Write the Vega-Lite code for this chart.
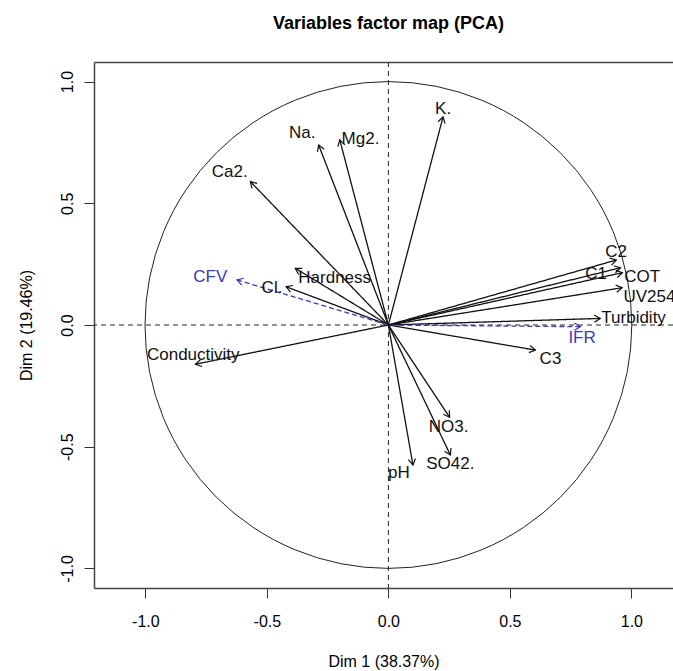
{
  "$schema": "https://vega.github.io/schema/vega-lite/v6.json",
  "width": 579,
  "height": 526,
  "autosize": "none",
  "padding": {"left": 94, "top": 62, "right": 0, "bottom": 83},
  "background": "white",
  "config": {"view": {"stroke": null}, "font": "Liberation Sans"},
  "title": {"text": "Variables factor map (PCA)", "font": "Liberation Sans", "fontSize": 18, "fontWeight": "bold", "color": "black", "anchor": "middle", "frame": "group", "dx": 5, "offset": 29},
  "datasets": {
    "vars": [
      {"name": "K.", "x": 0.225, "y": 0.855, "lx": 0.225, "ly": 0.887, "group": "active"},
      {"name": "Na.", "x": -0.287, "y": 0.739, "lx": -0.355, "ly": 0.787, "group": "active"},
      {"name": "Mg2.", "x": -0.2, "y": 0.76, "lx": -0.115, "ly": 0.763, "group": "active"},
      {"name": "Ca2.", "x": -0.568, "y": 0.589, "lx": -0.653, "ly": 0.627, "group": "active"},
      {"name": "Hardness", "x": -0.383, "y": 0.233, "lx": -0.221, "ly": 0.194, "group": "active"},
      {"name": "Cl.", "x": -0.421, "y": 0.157, "lx": -0.479, "ly": 0.153, "group": "active"},
      {"name": "Conductivity", "x": -0.794, "y": -0.161, "lx": -0.803, "ly": -0.123, "group": "active"},
      {"name": "C2", "x": 0.938, "y": 0.267, "lx": 0.937, "ly": 0.301, "group": "active"},
      {"name": "C1", "x": 0.955, "y": 0.235, "lx": 0.855, "ly": 0.208, "group": "active"},
      {"name": "COT", "x": 0.963, "y": 0.215, "lx": 1.044, "ly": 0.198, "group": "active"},
      {"name": "UV254", "x": 0.962, "y": 0.153, "lx": 1.074, "ly": 0.116, "group": "active"},
      {"name": "Turbidity", "x": 0.872, "y": 0.027, "lx": 1.009, "ly": 0.027, "group": "active"},
      {"name": "C3", "x": 0.605, "y": -0.103, "lx": 0.667, "ly": -0.141, "group": "active"},
      {"name": "NO3.", "x": 0.252, "y": -0.379, "lx": 0.248, "ly": -0.418, "group": "active"},
      {"name": "SO42.", "x": 0.255, "y": -0.534, "lx": 0.255, "ly": -0.572, "group": "active"},
      {"name": "pH", "x": 0.101, "y": -0.575, "lx": 0.043, "ly": -0.606, "group": "active"},
      {"name": "CFV", "x": -0.623, "y": 0.185, "lx": -0.733, "ly": 0.196, "group": "supplementary"},
      {"name": "IFR", "x": 0.79, "y": -0.007, "lx": 0.797, "ly": -0.055, "group": "supplementary"}
    ]
  },
  "data": {"name": "vars"},
  "resolve": {"axis": {"x": "independent"}},
  "layer": [
    {
      "data": {"values": [{}]},
      "mark": {"type": "rule", "stroke": "#222222", "strokeWidth": 1, "strokeDash": [5, 4]},
      "encoding": {
        "x": {"datum": 0, "type": "quantitative", "scale": {"domain": [-1.2115, 1.1712], "nice": false, "zero": false},
          "axis": {"orient": "top", "labels": false, "ticks": false, "title": null, "grid": false, "domain": true, "domainColor": "#444444", "domainWidth": 1.5}}
      }
    },
    {
      "data": {"values": [{}]},
      "mark": {"type": "rule", "stroke": "#222222", "strokeWidth": 1, "strokeDash": [5, 4]},
      "encoding": {
        "y": {"datum": 0, "type": "quantitative", "scale": {"domain": [-1.0801, 1.0801], "nice": false, "zero": false},
          "axis": {"values": [-1, -0.5, 0, 0.5, 1], "labelExpr": "replace(format(datum.value, '.1f'), '\u2212', '-')", "labelAngle": -90, "labelAlign": "center", "labelBaseline": "bottom", "labelFontSize": 16, "labelColor": "black", "labelFont": "Liberation Sans", "tickSize": 10, "tickColor": "#333333", "labelPadding": 9, "domainColor": "#444444", "domainWidth": 1.5, "grid": false, "title": "Dim 2 (19.46%)", "titleFontSize": 16, "titleFontWeight": "normal", "titleFont": "Liberation Sans", "titleColor": "black", "titlePadding": 25}}
      }
    },
    {
      "data": {"values": [{}]},
      "mark": {"type": "point", "shape": "circle", "filled": false, "stroke": "#222222", "strokeWidth": 1, "size": 236970, "opacity": 1},
      "encoding": {
        "x": {"datum": 0, "type": "quantitative", "scale": {"domain": [-1.2115, 1.1712], "nice": false, "zero": false},
          "axis": {"values": [-1, -0.5, 0, 0.5, 1], "labelExpr": "replace(format(datum.value, '.1f'), '\u2212', '-')", "labelFontSize": 16, "labelColor": "black", "labelFont": "Liberation Sans", "tickSize": 10, "tickColor": "#333333", "labelPadding": 15, "domainColor": "#444444", "domainWidth": 1.5, "grid": false, "title": "Dim 1 (38.37%)", "titleFontSize": 16, "titleFontWeight": "normal", "titleFont": "Liberation Sans", "titleColor": "black", "titlePadding": 24}},
        "y": {"datum": 0, "type": "quantitative", "scale": {"domain": [-1.0801, 1.0801], "nice": false, "zero": false}}
      }
    },
    {
      "mark": {"type": "rule", "strokeWidth": 1.3},
      "encoding": {
        "x": {"field": "x", "type": "quantitative", "scale": {"domain": [-1.2115, 1.1712], "nice": false, "zero": false}, "axis": null},
        "x2": {"datum": 0},
        "y": {"field": "y", "type": "quantitative", "scale": {"domain": [-1.0801, 1.0801], "nice": false, "zero": false}},
        "y2": {"datum": 0},
        "color": {"field": "group", "type": "nominal", "scale": {"domain": ["active", "supplementary"], "range": ["#111111", "#3a3ab4"]}, "legend": null},
        "strokeDash": {"field": "group", "type": "nominal", "scale": {"domain": ["active", "supplementary"], "range": [[1, 0], [5, 3]]}, "legend": null}
      }
    },
    {
      "transform": [{"calculate": "-atan2(datum.y, datum.x) * 180 / PI", "as": "ang"}],
      "mark": {"type": "point", "shape": "M -1 -0.6 L 0 0 L -1 0.6", "filled": false, "strokeWidth": 1.2, "size": 144, "opacity": 1},
      "encoding": {
        "x": {"field": "x", "type": "quantitative", "scale": {"domain": [-1.2115, 1.1712], "nice": false, "zero": false}, "axis": null},
        "y": {"field": "y", "type": "quantitative", "scale": {"domain": [-1.0801, 1.0801], "nice": false, "zero": false}},
        "angle": {"field": "ang", "type": "quantitative", "scale": null},
        "color": {"field": "group", "type": "nominal", "scale": {"domain": ["active", "supplementary"], "range": ["#111111", "#3a3ab4"]}, "legend": null}
      }
    },
    {
      "mark": {"type": "text", "fontSize": 17, "font": "Liberation Sans", "align": "center", "baseline": "middle"},
      "encoding": {
        "x": {"field": "lx", "type": "quantitative", "scale": {"domain": [-1.2115, 1.1712], "nice": false, "zero": false}, "axis": null},
        "y": {"field": "ly", "type": "quantitative", "scale": {"domain": [-1.0801, 1.0801], "nice": false, "zero": false}},
        "text": {"field": "name"},
        "color": {"field": "group", "type": "nominal", "scale": {"domain": ["active", "supplementary"], "range": ["#111111", "#3a3ab4"]}, "legend": null}
      }
    }
  ]
}
